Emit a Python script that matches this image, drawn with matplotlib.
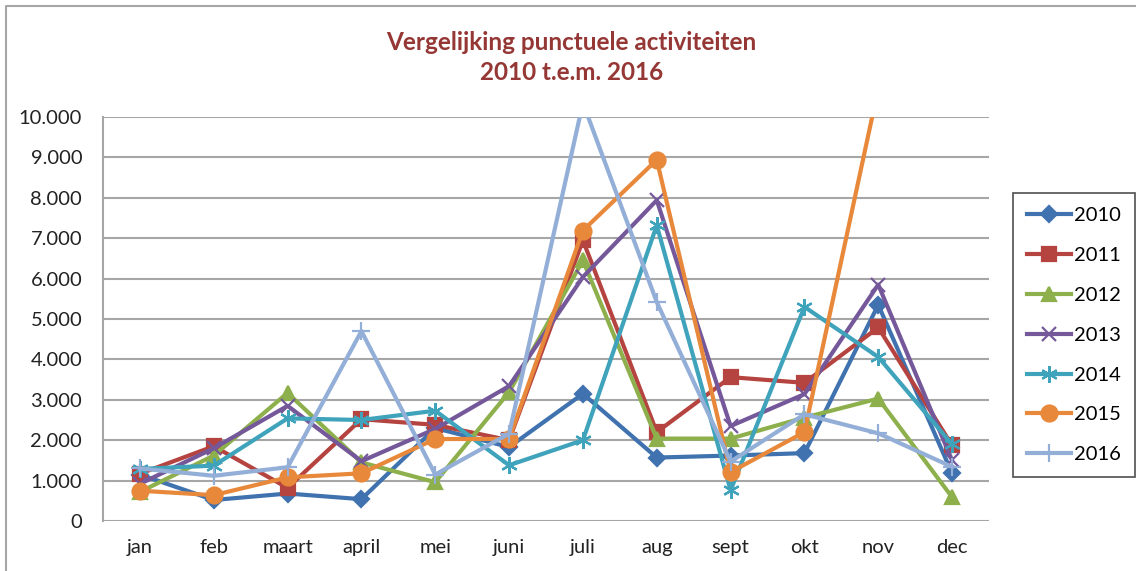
import numpy as np
import matplotlib
matplotlib.use("Agg")
import matplotlib.pyplot as plt
from matplotlib.lines import Line2D
from matplotlib.ticker import FuncFormatter

# %% data
months = ['jan', 'feb', 'maart', 'april', 'mei', 'juni',
          'juli', 'aug', 'sept', 'okt', 'nov', 'dec']

y2010 = [1150, 520, 680, 540, 2300, 1830, 3150, 1570, 1620, 1680, 5350, 1180]
y2011 = [1170, 1850, 820, 2520, 2380, 2000, 6950, 2200, 3560, 3420, 4790, 1870]
y2012 = [720, 1620, 3170, 1450, 960, 3190, 6450, 2040, 2040, 2560, 3030, 590]
y2013 = [920, 1800, 2850, 1480, 2280, 3340, 6040, 7940, 2350, 3140, 5850, 1500]
y2014 = [1290, 1370, 2540, 2500, 2730, 1380, 2000, 7320, 760, 5300, 4060, 1900]
y2015 = [750, 640, 1080, 1180, 2030, 2030, 7190, 8940, 1210, 2200, 10700, np.nan]
y2016 = [1300, 1120, 1330, 4700, 1150, 2160, 10350, 5420, 1470, 2640, 2170, 1340]

years = ['2010', '2011', '2012', '2013', '2014', '2015', '2016']
series = [y2010, y2011, y2012, y2013, y2014, y2015, y2016]

colors = ['#3F72AE', '#B5433F', '#8DB04C', '#74589A', '#3FA3BC', '#E8883A', '#93AFD8']
markers = ['D', 's', '^', 'x', (6, 2, 0), 'o', '+']
msizes = [8.5, 9.5, 10.5, 10, 12, 11.5, 13]

plt.rcParams['font.family'] = ['Lato', 'DejaVu Sans']

# %% figure
fig = plt.figure(figsize=(11.36, 5.71), dpi=100)
ax = fig.add_axes([103 / 1136, 50 / 571, 886 / 1136, 404 / 571])

x = np.arange(len(months))
for lbl, vals, c, m, ms in zip(years, series, colors, markers, msizes):
    ax.plot(x, vals, color=c, lw=3.0, marker=m, markersize=ms,
            markeredgewidth=1.6, markeredgecolor=c, markerfacecolor=c,
            label=lbl)

ax.set_xlim(-0.5, len(months) - 0.5)
ax.set_ylim(0, 10000)
ax.set_yticks(np.arange(0, 10001, 1000))
ax.yaxis.set_major_formatter(FuncFormatter(lambda v, p: f"{int(v):,}".replace(',', '.')))
ax.set_xticks(x)
ax.set_xticklabels(months)
ax.tick_params(length=0, labelsize=14.5, colors='#222222')
ax.tick_params(axis='y', pad=15)
ax.tick_params(axis='x', pad=13)

ax.grid(axis='y', color='#A6A6A6', lw=1.5)
ax.set_axisbelow(True)
for s in ['top', 'right', 'bottom']:
    ax.spines[s].set_visible(False)
ax.spines['left'].set_color('#A6A6A6')
ax.spines['left'].set_linewidth(1.5)

# title
fig.text(0.503, 1 - 42 / 571, 'Vergelijking punctuele activiteiten', ha='center', va='center',
         fontsize=17.5, fontweight='bold', color='#953735')
fig.text(0.503, 1 - 72 / 571, '2010 t.e.m. 2016', ha='center', va='center',
         fontsize=17.5, fontweight='bold', color='#953735')

# legend
leg = fig.legend(loc='upper left', bbox_to_anchor=(1013 / 1136, 1 - 193 / 571),
                 borderaxespad=0, fontsize=14.5, frameon=True, fancybox=False,
                 edgecolor='#222222', handlelength=2.2, labelspacing=1.13,
                 borderpad=0.7, handletextpad=0.15)
leg.get_frame().set_linewidth(1.2)

# outer chart border (only top and left visible)
fig.add_artist(Line2D([6 / 1136, 6 / 1136, 1.0], [0.0, 1 - 6 / 571, 1 - 6 / 571],
                      transform=fig.transFigure, color='#A6A6A6', lw=1.5))

fig.savefig('out.png', dpi=100)
